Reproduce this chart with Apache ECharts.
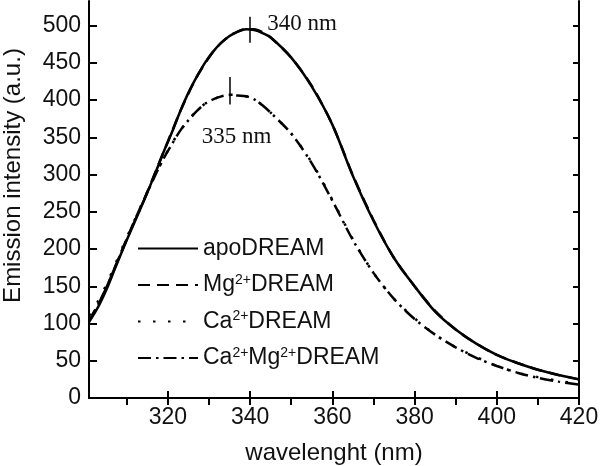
<!DOCTYPE html>
<html>
<head>
<meta charset="utf-8">
<script src="https://cdn.jsdelivr.net/npm/echarts@6/dist/echarts.min.js"></script>
<style>
  html, body { margin: 0; padding: 0; background: #fff; }
  #chart { width: 600px; height: 466px; }
</style>
</head>
<body>
<div id="chart"></div>
<script>
// wavelength (nm) sampled along the curves
const wavelength = [300.8, 303, 305, 307, 309, 311, 313, 315, 317, 319, 321, 323, 325, 327, 329, 331, 333, 335, 337, 339,
  341, 343, 345, 350, 355, 360, 365, 370, 375, 380, 385, 390, 395, 400, 405, 410, 415, 420]

const apoDREAM = [102, 122, 145, 172, 199, 225, 250, 276, 303, 331, 357, 385, 410, 431, 450, 465, 477, 486, 492, 495,
  494, 490, 484, 457, 418, 367, 298, 238, 188, 150, 116, 92, 73, 58, 47, 38, 31, 25]
const mgDREAM = [104, 125, 148, 174, 201, 227, 252, 277, 304, 331, 358, 385, 409, 431, 449, 465, 477, 486, 492, 495,
  495, 491, 484, 457, 419, 367, 299, 239, 188, 150, 117, 92, 73, 58, 47, 38, 31, 25]
const caDREAM = [111, 130, 152, 177, 203, 228, 252, 277, 301, 322, 342, 359, 373, 386, 395, 401, 405, 407, 407, 405,
  401, 393, 383, 355, 316, 266, 213, 168, 133, 107, 85, 68, 55, 43, 34, 28, 23, 19]
const caMgDREAM = [104, 125, 148, 174, 200, 226, 251, 276, 300, 322, 341, 359, 373, 385, 395, 401, 405, 407, 406, 405,
  401, 393, 383, 355, 315, 265, 212, 168, 133, 106, 85, 68, 54, 43, 34, 27, 22, 18]

const xTicks = [320, 340, 360, 380, 400, 420]
const xTopTicks = [310, 320, 330, 340, 350, 360, 370, 380, 390, 400, 410, 420]
const yTicks = [0, 50, 100, 150, 200, 250, 300, 350, 400, 450, 500]

// peak markers: [wavelength, low, high]
const peakApo = [340, 477, 512]
const peakCaMg = [335, 394, 431]

const sans = 'Liberation Sans, Arial, sans-serif'
const serif = 'Liberation Serif, Times New Roman, serif'

function pairs(ys) {
  return ys.map((y, i) => [wavelength[i], y])
}

const legendRich = {
  'apoDREAM': '{n|apoDREAM}',
  'Mg2+DREAM': '{n|Mg}{s|2+}{n|DREAM}',
  'Ca2+DREAM': '{n|Ca}{s|2+}{n|DREAM}',
  'Ca2+Mg2+DREAM': '{n|Ca}{s|2+}{n|Mg}{s|2+}{n|DREAM}'
}

const myChart = echarts.init(document.getElementById('chart'))
const option = {
  animation: false,
  backgroundColor: '#fff',
  color: ['#000', '#000', '#000', '#000'],
  grid: { left: 89, right: 21, top: 1, bottom: 68, containLabel: false, outerBoundsMode: 'none' },
  legend: {
    orient: 'vertical',
    left: 137,
    top: 237,
    padding: 0,
    itemWidth: 60,
    itemHeight: 14,
    itemGap: 13,
    itemStyle: { opacity: 0 },
    data: ['apoDREAM', 'Mg2+DREAM', 'Ca2+DREAM', 'Ca2+Mg2+DREAM'],
    formatter: name => legendRich[name],
    textStyle: {
      rich: {
        n: { fontSize: 23, fontFamily: sans, color: '#111', lineHeight: 24 },
        s: { fontSize: 14, fontFamily: sans, color: '#111', verticalAlign: 'top', lineHeight: 13 }
      }
    }
  },
  xAxis: [
    {
      type: 'value',
      min: 300.8,
      max: 420,
      position: 'bottom',
      name: 'wavelenght (nm)',
      nameLocation: 'middle',
      nameGap: 43,
      nameTextStyle: { fontSize: 24, fontFamily: sans, color: '#111' },
      axisLine: { lineStyle: { color: '#000', width: 2 } },
      axisTick: { inside: true, length: 7, lineStyle: { color: '#000', width: 2 }, customValues: xTicks },
      axisLabel: { margin: 8, fontSize: 23, fontFamily: sans, color: '#111', customValues: xTicks },
      splitLine: { show: false }
    },
    {
      type: 'value',
      min: 300.8,
      max: 420,
      position: 'top',
      axisLine: { lineStyle: { color: '#000', width: 2 } },
      axisTick: { inside: true, length: 7, lineStyle: { color: '#000', width: 2 }, customValues: xTopTicks },
      axisLabel: { show: false },
      splitLine: { show: false }
    }
  ],
  yAxis: [
    {
      type: 'value',
      min: 0,
      max: 533,
      position: 'left',
      name: 'Emission intensity (a.u.)',
      nameLocation: 'middle',
      nameGap: 64,
      nameTextStyle: { fontSize: 24, fontFamily: sans, color: '#111', padding: [0, 0, 0, 48] },
      axisLine: { lineStyle: { color: '#000', width: 2 } },
      axisTick: { inside: true, length: 8, lineStyle: { color: '#000', width: 2 }, customValues: yTicks },
      axisLabel: { margin: 8, fontSize: 23, fontFamily: sans, color: '#111', customValues: yTicks },
      splitLine: { show: false }
    },
    {
      type: 'value',
      min: 0,
      max: 533,
      position: 'right',
      axisLine: { show: true, lineStyle: { color: '#000', width: 2 } },
      axisTick: { show: true, inside: true, length: 6, lineStyle: { color: '#000', width: 2 }, customValues: yTicks },
      axisLabel: { show: false },
      splitLine: { show: false }
    }
  ],
  series: [
    {
      name: 'apoDREAM',
      type: 'line',
      smooth: 0.3,
      showSymbol: false,
      symbol: 'none',
      lineStyle: { color: '#000', width: 2.5, type: 'solid' },
      data: pairs(apoDREAM),
      markLine: {
        silent: true,
        symbol: ['none', 'none'],
        lineStyle: { color: '#000', width: 1.5, type: 'solid' },
        label: { show: false },
        data: [[{ coord: [peakApo[0], peakApo[1]] }, { coord: [peakApo[0], peakApo[2]] }]]
      },
      markPoint: {
        symbol: 'circle',
        symbolSize: 0,
        label: {
          show: true, position: 'right', distance: 0, offset: [17, -5],
          formatter: '340 nm', fontSize: 23, fontFamily: serif, color: '#111'
        },
        data: [{ coord: [340, 495] }]
      }
    },
    {
      name: 'Mg2+DREAM',
      type: 'line',
      smooth: 0.3,
      showSymbol: false,
      symbol: 'none',
      lineStyle: { color: '#000', width: 2.5, type: [12, 7] },
      data: pairs(mgDREAM)
    },
    {
      name: 'Ca2+DREAM',
      type: 'line',
      smooth: 0.3,
      showSymbol: false,
      symbol: 'none',
      lineStyle: { color: '#000', width: 2.5, type: [2.5, 12.5] },
      data: pairs(caDREAM)
    },
    {
      name: 'Ca2+Mg2+DREAM',
      type: 'line',
      smooth: 0.3,
      showSymbol: false,
      symbol: 'none',
      lineStyle: { color: '#000', width: 2.5, type: [13, 5, 2.5, 5] },
      data: pairs(caMgDREAM),
      markLine: {
        silent: true,
        symbol: ['none', 'none'],
        lineStyle: { color: '#000', width: 1.5, type: 'solid' },
        label: { show: false },
        data: [[{ coord: [peakCaMg[0], peakCaMg[1]] }, { coord: [peakCaMg[0], peakCaMg[2]] }]]
      },
      markPoint: {
        symbol: 'circle',
        symbolSize: 0,
        label: {
          show: true, position: 'bottom', distance: 0, offset: [7, 31],
          formatter: '335 nm', fontSize: 23, fontFamily: serif, color: '#111'
        },
        data: [{ coord: [335, 407] }]
      }
    }
  ]
}
option && myChart.setOption(option)
</script>
</body>
</html>
